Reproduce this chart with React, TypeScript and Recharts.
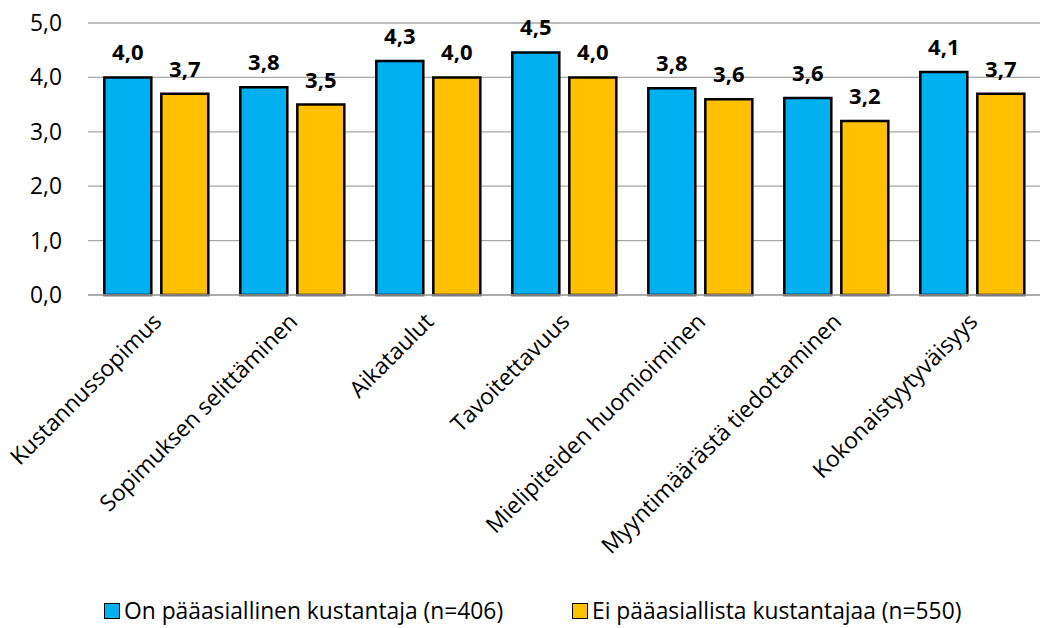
import React from "react"
import { BarChart, Bar, XAxis, YAxis, CartesianGrid, Legend, LabelList } from "recharts"

const categories = [
  "Kustannussopimus",
  "Sopimuksen selittäminen",
  "Aikataulut",
  "Tavoitettavuus",
  "Mielipiteiden huomioiminen",
  "Myyntimäärästä tiedottaminen",
  "Kokonaistyytyväisyys",
]
const mainPublisher = [4.0, 3.82, 4.3, 4.46, 3.8, 3.62, 4.1]
const noMainPublisher = [3.7, 3.5, 4.0, 4.0, 3.6, 3.2, 3.7]
const seriesNames = ["On pääasiallinen kustantaja (n=406)", "Ei pääasiallista kustantajaa (n=550)"]
const yTicks = [0, 1, 2, 3, 4, 5]

const BLUE = "#00B0F0"
const ORANGE = "#FFC000"
const FONT = "'Open Sans', Lato, sans-serif"
const FS = 22.8

const data = categories.map((name, i) => ({
  name,
  a: mainPublisher[i],
  b: noMainPublisher[i],
}))

const fmt = (v: number) => v.toFixed(1).replace(".", ",")

function XTick({ x, y, payload }: any) {
  const tx = x + 7
  const ty = y + 20
  return (
    <text
      x={tx}
      y={ty}
      transform={`rotate(-45, ${tx}, ${ty})`}
      textAnchor="end"
      fontSize={FS}
      fontFamily={FONT}
      fill="#000"
    >
      {payload.value}
    </text>
  )
}

function YTick({ y, payload }: any) {
  return (
    <text x={62} y={y + 8} textAnchor="end" fontSize={FS} fontFamily={FONT} fill="#000">
      {fmt(payload.value)}
    </text>
  )
}

function LegendContent() {
  const items = [
    { label: seriesNames[0], color: BLUE, left: 104 },
    { label: seriesNames[1], color: ORANGE, left: 572 },
  ]
  return (
    <div style={{ position: "relative", height: 40, fontFamily: FONT, fontSize: FS }}>
      {items.map((it) => (
        <div
          key={it.label}
          style={{ position: "absolute", left: it.left, top: 7, display: "flex", alignItems: "center" }}
        >
          <span
            style={{
              width: 14,
              height: 14,
              background: it.color,
              border: "1.5px solid #000",
              display: "inline-block",
              marginRight: 4,
            }}
          />
          <span>{it.label}</span>
        </div>
      ))}
    </div>
  )
}

export default function App() {
  return (
    <div style={{ position: "absolute", left: 0, top: 0, background: "#fff" }}>
      <BarChart
        width={1043}
        height={628}
        data={data}
        margin={{ top: 23, right: 3, left: 0, bottom: 0 }}
        barCategoryGap="12%"
        barGap={10}
      >
        <CartesianGrid vertical={false} stroke="#a6a6a6" strokeWidth={1.3} />
        <XAxis
          dataKey="name"
          interval={0}
          height={293}
          tick={<XTick />}
          tickLine={false}
          axisLine={{ stroke: "#a6a6a6", strokeWidth: 1.3 }}
        />
        <YAxis
          width={88}
          domain={[0, 5]}
          ticks={yTicks}
          tick={<YTick />}
          tickLine={false}
          axisLine={false}
        />
        <Legend verticalAlign="bottom" height={40} content={<LegendContent />} />
        <Bar dataKey="a" name={seriesNames[0]} fill={BLUE} stroke="#000" strokeWidth={2.5} isAnimationActive={false}>
          <LabelList
            dataKey="a"
            position="top"
            offset={17}
            formatter={(v: any) => fmt(Number(v))}
            style={{ fontSize: 22, fontWeight: 700, fontFamily: FONT, fill: "#000" }}
          />
        </Bar>
        <Bar dataKey="b" name={seriesNames[1]} fill={ORANGE} stroke="#000" strokeWidth={2.5} isAnimationActive={false}>
          <LabelList
            dataKey="b"
            position="top"
            offset={17}
            formatter={(v: any) => fmt(Number(v))}
            style={{ fontSize: 22, fontWeight: 700, fontFamily: FONT, fill: "#000" }}
          />
        </Bar>
      </BarChart>
    </div>
  )
}
